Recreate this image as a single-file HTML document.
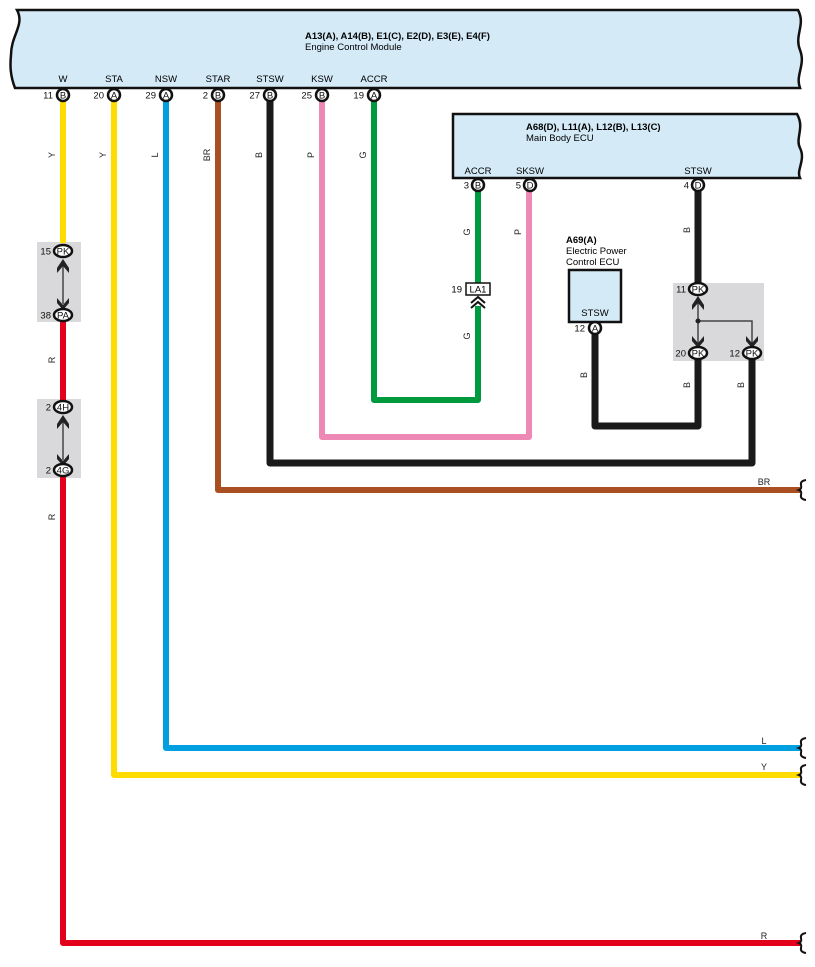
<!DOCTYPE html>
<html><head><meta charset="utf-8"><style>
html,body{margin:0;padding:0;background:#fff;}
svg{display:block;font-family:"Liberation Sans",sans-serif;}
</style></head><body>
<svg width="815" height="967" viewBox="0 0 815 967" xmlns="http://www.w3.org/2000/svg">
<!-- ECM box -->
<path d="M17,10 L798,10 C806,25 794,35 800,50 C806,65 795,75 800,88 L15,88 C10,75 10,65 11,55 C11,35 25,25 17,10 Z" fill="#d4eaf7" stroke="#111" stroke-width="2.5"/>
<text x="305" y="39" font-size="9.5" font-weight="bold">A13(A), A14(B), E1(C), E2(D), E3(E), E4(F)</text>
<text x="305" y="50" font-size="9.5">Engine Control Module</text>
<g font-size="9.5" text-anchor="middle">
<text x="63" y="82">W</text><text x="114" y="82">STA</text><text x="166" y="82">NSW</text>
<text x="218" y="82">STAR</text><text x="270" y="82">STSW</text><text x="322" y="82">KSW</text><text x="374" y="82">ACCR</text>
</g>
<!-- Main body ECU -->
<path d="M453,114 L797,114 C805,128 795,138 800,148 C806,160 796,170 800,178 L453,178 Z" fill="#d4eaf7" stroke="#111" stroke-width="2.5"/>
<text x="526" y="130" font-size="9.5" font-weight="bold">A68(D), L11(A), L12(B), L13(C)</text>
<text x="526" y="141" font-size="9.5">Main Body ECU</text>
<g font-size="9.5" text-anchor="middle"><text x="478" y="174">ACCR</text><text x="530" y="174">SKSW</text><text x="698" y="174">STSW</text></g>
<!-- A69 -->
<text x="566" y="243" font-size="9.5" font-weight="bold">A69(A)</text>
<text x="566" y="254" font-size="9.5">Electric Power</text>
<text x="566" y="265" font-size="9.5">Control ECU</text>
<rect x="569" y="270" width="52" height="52" fill="#d4eaf7" stroke="#111" stroke-width="2.5"/>
<text x="595" y="316" font-size="9.5" text-anchor="middle">STSW</text>
<!-- gray connector boxes -->
<rect x="37" y="242" width="44" height="80" fill="#d9d9db"/>
<rect x="37" y="399" width="44" height="79" fill="#d9d9db"/>
<rect x="673" y="283" width="91" height="78" fill="#d9d9db"/>
<!-- wires -->
<g fill="none" stroke-width="6" stroke-linejoin="round">
<path d="M63,101 V243" stroke="#ffdc00"/>
<path d="M63,322 V400" stroke="#e3001b"/>
<path d="M63,477 V943 H800" stroke="#e3001b"/>
<path d="M114,101 V775 H800" stroke="#ffdc00"/>
<path d="M166,101 V748 H800" stroke="#009fe0"/>
<path d="M218,101 V490 H800" stroke="#a94f22"/>
<path d="M270,101 V463 H752 V359" stroke="#1a1a1a" stroke-width="7"/>
<path d="M322,101 V437 H529 V191" stroke="#ee88b5"/>
<path d="M374,101 V400 H478 V306" stroke="#009a3e"/>
<path d="M478,191 V284" stroke="#009a3e"/>
<path d="M595,334 V426 H698 V359" stroke="#1a1a1a" stroke-width="7"/>
<path d="M698,191 V283" stroke="#1a1a1a" stroke-width="7"/>
</g>
<!-- inner connector lines -->
<g stroke="#444" stroke-width="1.5" fill="none">
<path d="M63,262 V304"/><path d="M63,418 V460"/>
<path d="M698,300 V343"/><path d="M698,321 H752 V343"/>
</g>
<circle cx="698" cy="321" r="2.5" fill="#222"/>
<g fill="#222">
<path d="M57,268 L63,259 L69,268 L69,273 L63,266 L57,273Z"/>
<path d="M57,298 L63,305 L69,298 L69,303 L63,310 L57,303Z"/>
<path d="M57,424 L63,415 L69,424 L69,429 L63,422 L57,429Z"/>
<path d="M57,454 L63,461 L69,454 L69,459 L63,466 L57,459Z"/>
<path d="M692,305 L698,296 L704,305 L704,310 L698,303 L692,310Z"/>
<path d="M692,336 L698,343 L704,336 L704,341 L698,348 L692,341Z"/>
<path d="M746,336 L752,343 L758,336 L758,341 L752,348 L746,341Z"/>
</g>
<!-- LA1 -->
<rect x="466" y="283" width="24" height="12" fill="#fff" stroke="#111" stroke-width="1.5"/>
<text x="478" y="292.5" font-size="9.5" text-anchor="middle">LA1</text>
<text x="462" y="292.5" font-size="9.5" text-anchor="end">19</text>
<path d="M471,303 L478,297 L485,303 M471,308 L478,302 L485,308" stroke="#111" stroke-width="2" fill="none"/>
<!-- pins -->
<g font-size="9.5" text-anchor="middle" stroke-width="2.5">
<g stroke="#111" fill="#fff">
<circle cx="63" cy="95" r="6"/><circle cx="114" cy="95" r="6"/><circle cx="166" cy="95" r="6"/><circle cx="218" cy="95" r="6"/><circle cx="270" cy="95" r="6"/><circle cx="322" cy="95" r="6"/><circle cx="374" cy="95" r="6"/>
<circle cx="478" cy="185" r="6"/><circle cx="530" cy="185" r="6"/><circle cx="698" cy="185" r="6"/><circle cx="595" cy="328" r="6"/>
<ellipse cx="63" cy="251" rx="9" ry="6"/><ellipse cx="63" cy="315" rx="9" ry="6"/>
<ellipse cx="63" cy="407" rx="9" ry="6"/><ellipse cx="63" cy="470" rx="9" ry="6"/>
<ellipse cx="698" cy="289" rx="9" ry="6"/><ellipse cx="698" cy="353" rx="9" ry="6"/><ellipse cx="752" cy="353" rx="9" ry="6"/>
</g>
<g fill="#111" stroke="none">
<text x="63" y="98.5">B</text><text x="114" y="98.5">A</text><text x="166" y="98.5">A</text><text x="218" y="98.5">B</text><text x="270" y="98.5">B</text><text x="322" y="98.5">B</text><text x="374" y="98.5">A</text>
<text x="478" y="188.5">B</text><text x="530" y="188.5">D</text><text x="698" y="188.5">D</text><text x="595" y="331.5">A</text>
<text x="63" y="254.5">PK</text><text x="63" y="318.5">PA</text><text x="63" y="410.5">4H</text><text x="63" y="473.5">4G</text>
<text x="698" y="292.5">PK</text><text x="698" y="356.5">PK</text><text x="752" y="356.5">PK</text>
</g>
<g fill="#111" stroke="none" text-anchor="end">
<text x="53" y="98.5">11</text><text x="104" y="98.5">20</text><text x="156" y="98.5">29</text><text x="208" y="98.5">2</text><text x="260" y="98.5">27</text><text x="312" y="98.5">25</text><text x="364" y="98.5">19</text>
<text x="469" y="188.5">3</text><text x="521" y="188.5">5</text><text x="689" y="188.5">4</text><text x="585" y="331.5">12</text>
<text x="51" y="254.5">15</text><text x="51" y="318.5">38</text><text x="51" y="410.5">2</text><text x="51" y="473.5">2</text>
<text x="686" y="292.5">11</text><text x="686" y="356.5">20</text><text x="740" y="356.5">12</text>
</g>
</g>
<!-- wire labels rotated -->
<g font-size="9" fill="#222" text-anchor="middle">
<text transform="translate(55,155) rotate(-90)">Y</text>
<text transform="translate(106,155) rotate(-90)">Y</text>
<text transform="translate(158,155) rotate(-90)">L</text>
<text transform="translate(210,155) rotate(-90)">BR</text>
<text transform="translate(262,155) rotate(-90)">B</text>
<text transform="translate(314,155) rotate(-90)">P</text>
<text transform="translate(366,155) rotate(-90)">G</text>
<text transform="translate(55,360) rotate(-90)">R</text>
<text transform="translate(55,517) rotate(-90)">R</text>
<text transform="translate(470,232) rotate(-90)">G</text>
<text transform="translate(521,232) rotate(-90)">P</text>
<text transform="translate(470,336) rotate(-90)">G</text>
<text transform="translate(690,230) rotate(-90)">B</text>
<text transform="translate(587,375) rotate(-90)">B</text>
<text transform="translate(690,385) rotate(-90)">B</text>
<text transform="translate(744,385) rotate(-90)">B</text>
</g>
<g font-size="9" fill="#222" text-anchor="middle">
<text x="764" y="485">BR</text><text x="764" y="744">L</text><text x="764" y="770">Y</text><text x="764" y="939">R</text>
</g>
<!-- break marks -->
<g fill="none" stroke="#111" stroke-width="2">
<path d="M806,480 Q800,481 801,485 Q802,489 799,490 Q802,491 801,495 Q800,499 806,500"/>
<path d="M806,738 Q800,739 801,743 Q802,747 799,748 Q802,749 801,753 Q800,757 806,758"/>
<path d="M806,765 Q800,766 801,770 Q802,774 799,775 Q802,776 801,780 Q800,784 806,785"/>
<path d="M806,933 Q800,934 801,938 Q802,942 799,943 Q802,944 801,948 Q800,952 806,953"/>
</g>
</svg>
</body></html>
